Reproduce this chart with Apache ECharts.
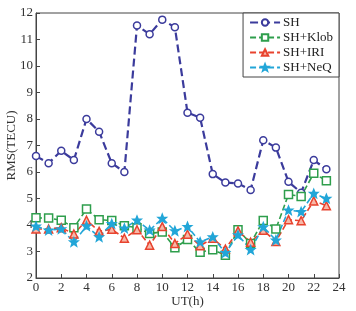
<!DOCTYPE html>
<html>
<head>
<meta charset="utf-8">
<script src="https://cdn.jsdelivr.net/npm/echarts@6/dist/echarts.min.js"></script>
<style>
  html, body { margin: 0; padding: 0; background: #fff; }
  #main { width: 356px; height: 311px; }
</style>
</head>
<body>
<div id="main"></div>
<script>
// hours UT
var hours = [0,1,2,3,4,5,6,7,8,9,10,11,12,13,14,15,16,17,18,19,20,21,22,23];
var seriesNames = ['SH', 'SH+Klob', 'SH+IRI', 'SH+NeQ'];

var rmsSH   = [6.6,6.33,6.8,6.45,8.0,7.52,6.33,6.0,11.53,11.2,11.75,11.46,8.24,8.05,5.92,5.6,5.57,5.32,7.2,6.92,5.63,5.22,6.45,6.1];
var rmsKlob = [4.27,4.26,4.18,3.9,4.6,4.2,4.17,3.97,3.9,3.68,3.74,3.14,3.45,2.97,3.07,2.86,3.82,3.3,4.17,3.85,5.15,5.08,5.95,5.67];
var rmsIRI  = [3.85,3.85,3.9,3.66,4.18,3.76,3.84,3.5,3.82,3.24,3.94,3.3,3.65,3.22,3.5,3.09,3.78,3.35,3.8,3.38,4.2,4.16,4.91,4.73];
var rmsNeQ  = [3.95,3.8,3.85,3.36,3.96,3.55,4.05,3.88,4.18,3.8,4.25,3.78,3.94,3.36,3.55,2.95,3.62,3.07,3.93,3.43,4.56,4.5,5.19,5.0];

function pairs(vals) {
    return hours.map(function (h, i) { return [h, vals[i]]; });
}

var font = '"Liberation Serif", "DejaVu Serif", serif';
var star = 'path://M0,-10 L2.9,-3.1 L9.5,-3.1 L4.2,1.2 L6.2,8.1 L0,4 L-6.2,8.1 L-4.2,1.2 L-9.5,-3.1 L-2.9,-3.1 Z';

function mkSeries(name, vals, color, symbol, size, width, dash, fill) {
    return {
        name: name,
        type: 'line',
        data: pairs(vals),
        symbol: symbol,
        symbolSize: size,
        showSymbol: true,
        showAllSymbol: true,
        lineStyle: { color: color, width: width, type: dash },
        itemStyle: { color: fill, borderColor: color, borderWidth: 1.5 },
        emphasis: { disabled: true },
        animation: false
    };
}

var chart = echarts.init(document.getElementById('main'), null, { renderer: 'canvas' });

chart.setOption({
    backgroundColor: '#fff',
    animation: false,
    grid: {
        left: 36, right: 17, top: 13, bottom: 33,
        containLabel: false,
        outerBoundsMode: 'none',
        show: true, borderColor: '#444', borderWidth: 1
    },
    legend: {
        data: seriesNames,
        orient: 'vertical',
        right: 17,
        top: 13,
        padding: [3, 6, 3, 6],
        itemGap: 2,
        itemWidth: 30,
        itemHeight: 8,
        backgroundColor: '#fff',
        borderColor: '#444',
        borderWidth: 1,
        borderRadius: 0,
        textStyle: { fontFamily: font, fontSize: 13, color: '#222', padding: [0, 0, 0, -2] }
    },
    xAxis: {
        type: 'value',
        min: 0, max: 24, interval: 2,
        name: 'UT(h)',
        nameLocation: 'middle',
        nameGap: 17,
        nameMoveOverlap: false,
        nameTextStyle: { fontFamily: font, fontSize: 13, color: '#333', verticalAlign: 'top' },
        axisLine: { lineStyle: { color: '#444' } },
        axisTick: { inside: true, length: 4, lineStyle: { color: '#444' } },
        axisLabel: { fontFamily: font, fontSize: 13, color: '#333', margin: 3 },
        splitLine: { show: false }
    },
    yAxis: {
        type: 'value',
        min: 2, max: 12, interval: 1,
        name: 'RMS(TECU)',
        nameLocation: 'middle',
        nameGap: 18,
        nameMoveOverlap: false,
        nameTextStyle: { fontFamily: font, fontSize: 13, color: '#333' },
        axisLine: { show: true, lineStyle: { color: '#444' } },
        axisTick: { show: true, inside: true, length: 4, lineStyle: { color: '#444' } },
        axisLabel: { fontFamily: font, fontSize: 13, color: '#333', margin: 3 },
        splitLine: { show: false }
    },
    series: [
        mkSeries('SH', rmsSH, '#3b3b9c', 'circle', 7, 2.2, [8, 4], '#fff'),
        mkSeries('SH+Klob', rmsKlob, '#2e9e4c', 'rect', 8, 1.6, [6, 3], '#fff'),
        mkSeries('SH+IRI', rmsIRI, '#e8432e', 'triangle', 8, 1.6, [6, 3], '#f7b8a8'),
        mkSeries('SH+NeQ', rmsNeQ, '#22a6d8', star, 8, 1.6, [6, 3], '#22a6d8')
    ]
});
</script>
</body>
</html>
